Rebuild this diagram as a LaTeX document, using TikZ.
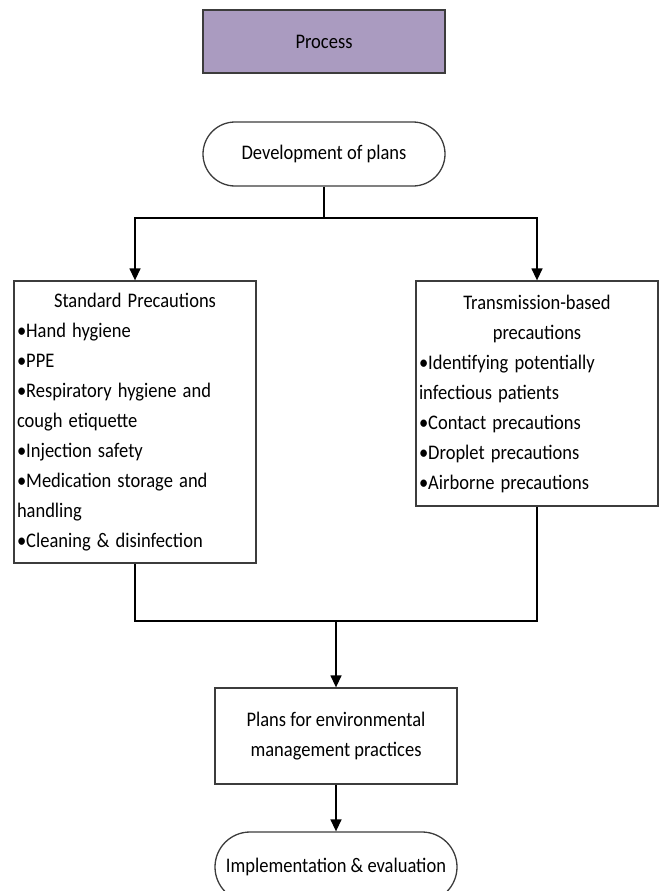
\documentclass[tikz,border=0pt]{standalone}
\usepackage{fontspec}
\usepackage{graphicx}
\setmainfont{Carlito}
\usetikzlibrary{arrows.meta,shapes.misc}
\definecolor{procfill}{RGB}{170,155,192}
\definecolor{boxline}{RGB}{60,60,60}
\newcommand{\vs}[1]{\scalebox{1}[1.12]{#1}}
\newcommand{\cl}[1]{\vs{\makebox[\linewidth]{#1}}}
\tikzset{
  base/.style={draw=boxline, line width=1.3pt, inner sep=0pt, font=\fontsize{18.5}{30}\selectfont},
  rectbox/.style={base, rectangle, minimum width=242pt},
  pill/.style={base, rounded rectangle, minimum width=242pt},
  conn/.style={line width=1.4pt, draw=black},
  arr/.style={conn, -{Triangle[length=12pt,width=11pt]}}
}
\begin{document}
\begin{tikzpicture}[x=1pt,y=-1pt]
\useasboundingbox (0,0) rectangle (664,891);
\node[rectbox, fill=procfill, minimum height=63pt] (process) at (324,41.5) {\vs{Process}};
\node[pill, minimum height=64pt] (dev) at (324,154) {\vs{Development of plans}};
\node[rectbox, minimum height=282pt, text width=236pt, align=left] (std) at (135,422)
  {\cl{Standard Precautions}\\
   \vs{•Hand hygiene}\\
   \vs{•PPE}\\
   \vs{•Respiratory hygiene and}\\
   \vs{cough etiquette}\\
   \vs{•Injection safety}\\
   \vs{•Medication storage and}\\
   \vs{handling}\\
   \vs{•Cleaning \& disinfection}};
\node[rectbox, minimum height=225pt, text width=236pt, align=left] (tb) at (537,393.5)
  {\cl{Transmission-based}\\
   \cl{precautions}\\
   \vs{•Identifying potentially}\\
   \vs{infectious patients}\\
   \vs{•Contact precautions}\\
   \vs{•Droplet precautions}\\
   \vs{•Airborne precautions}};
\node[rectbox, minimum height=96pt, align=center] (plans) at (336,736)
  {\vs{Plans for environmental}\\\vs{management practices}};
\node[pill, minimum height=70pt] (impl) at (336,867) {\vs{Implementation \& evaluation}};
\coordinate (split) at (324,218);
\coordinate (merge) at (336,621);
\draw[conn] (dev.south) -- (split);
\draw[arr] (split) -| (std.north);
\draw[arr] (split) -| (tb.north);
\draw[conn] (std.south) |- (merge);
\draw[conn] (tb.south) |- (merge);
\draw[arr] (merge) -- (plans.north);
\draw[arr] (plans.south) -- (impl.north);
\end{tikzpicture}
\end{document}
